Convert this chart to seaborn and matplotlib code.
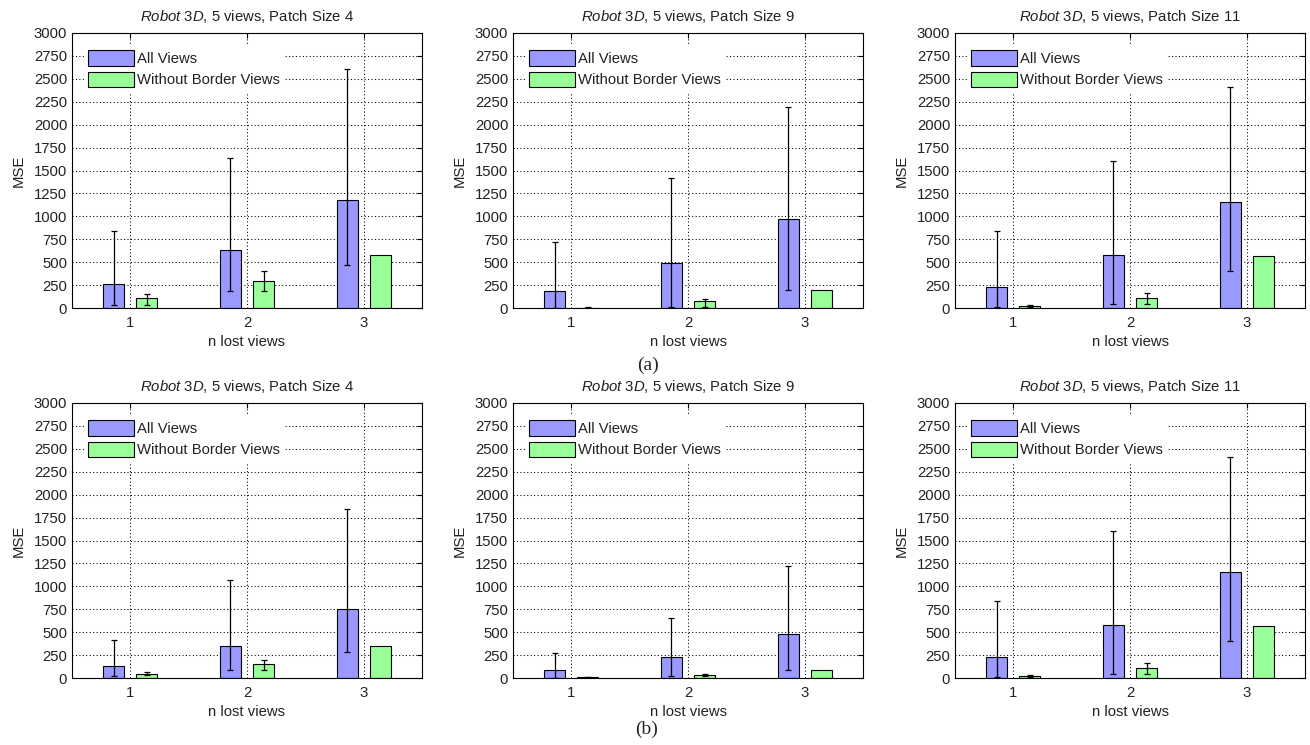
import numpy as np
import pandas as pd
import matplotlib
matplotlib.use("Agg")
import matplotlib.pyplot as plt
from matplotlib.container import BarContainer
import seaborn as sns

# ---------------- data ----------------
categories = ["1", "2", "3"]
series = ["All Views", "Without Border Views"]
patch_sizes = [4, 9, 11]
row_captions = ["(a)", "(b)"]
yticks = [0, 250, 500, 750, 1000, 1250, 1500, 1750, 2000, 2250, 2500, 2750, 3000]
nan = float("nan")

# row (a), patch size 4
a4_all = [262, 629, 1182]
a4_all_lo = [36, 182, 473]
a4_all_hi = [844, 1633, 2607]
a4_wb = [109, 291, 575]
a4_wb_lo = [36, 182, nan]
a4_wb_hi = [153, 400, nan]
# row (a), patch size 9
a9_all = [189, 491, 971]
a9_all_lo = [0, 10, 200]
a9_all_hi = [716, 1418, 2189]
a9_wb = [5, 73, 200]
a9_wb_lo = [2, 10, nan]
a9_wb_hi = [8, 98, nan]
# row (a), patch size 11
a11_all = [229, 575, 1156]
a11_all_lo = [10, 47, 400]
a11_all_hi = [844, 1607, 2411]
a11_wb = [22, 109, 564]
a11_wb_lo = [11, 47, nan]
a11_wb_hi = [36, 164, nan]
# row (b), patch size 4
b4_all = [135, 353, 753]
b4_all_lo = [25, 87, 284]
b4_all_hi = [411, 1069, 1847]
b4_wb = [47, 153, 353]
b4_wb_lo = [29, 87, nan]
b4_wb_hi = [62, 196, nan]
# row (b), patch size 9
b9_all = [87, 225, 476]
b9_all_lo = [0, 25, 87]
b9_all_hi = [273, 655, 1218]
b9_wb = [11, 36, 87]
b9_wb_lo = [8, 25, nan]
b9_wb_hi = [14, 47, nan]
# row (b), patch size 11
b11_all = [229, 575, 1156]
b11_all_lo = [10, 47, 400]
b11_all_hi = [844, 1607, 2411]
b11_wb = [22, 109, 564]
b11_wb_lo = [11, 47, nan]
b11_wb_hi = [36, 164, nan]

panels = [
    [(a4_all, a4_all_lo, a4_all_hi, a4_wb, a4_wb_lo, a4_wb_hi),
     (a9_all, a9_all_lo, a9_all_hi, a9_wb, a9_wb_lo, a9_wb_hi),
     (a11_all, a11_all_lo, a11_all_hi, a11_wb, a11_wb_lo, a11_wb_hi)],
    [(b4_all, b4_all_lo, b4_all_hi, b4_wb, b4_wb_lo, b4_wb_hi),
     (b9_all, b9_all_lo, b9_all_hi, b9_wb, b9_wb_lo, b9_wb_hi),
     (b11_all, b11_all_lo, b11_all_hi, b11_wb, b11_wb_lo, b11_wb_hi)],
]

# ---------------- style ----------------
sns.set_style("white")
plt.rcParams["font.family"] = ["Liberation Sans", "DejaVu Sans"]
plt.rcParams["mathtext.fontset"] = "custom"
plt.rcParams["mathtext.it"] = "Liberation Sans:italic"
plt.rcParams["mathtext.rm"] = "Liberation Sans"
FS = 10.7
plt.rcParams["font.size"] = FS

blue = "#9999ff"
green = "#99ff99"
txt = "#222222"

W, H = 1310, 745
fig = plt.figure(figsize=(W / 100, H / 100), dpi=100)

col_left = [72, 513, 955]
ax_w = 350
row_bottom = [308, 678]
ax_h = 275

for r in range(2):
    for c in range(3):
        all_v, all_lo, all_hi, wb_v, wb_lo, wb_hi = panels[r][c]
        ax = fig.add_axes([col_left[c] / W, 1 - row_bottom[r] / H, ax_w / W, ax_h / H])
        df = pd.DataFrame({
            "n": categories * 2,
            "mse": list(all_v) + list(wb_v),
            "series": [series[0]] * 3 + [series[1]] * 3,
        })
        sns.barplot(data=df, x="n", y="mse", hue="series", order=categories,
                    hue_order=series, palette=[blue, green], width=0.57, gap=0.37,
                    edgecolor="black", linewidth=0.8, errorbar=None, legend=False,
                    saturation=1, ax=ax)
        bar_conts = [cont for cont in ax.containers if isinstance(cont, BarContainer)]
        lows = [all_lo, wb_lo]
        highs = [all_hi, wb_hi]
        vals = [all_v, wb_v]
        for k, cont in enumerate(bar_conts):
            xs, ys, el, eu = [], [], [], []
            for i, bar in enumerate(cont.patches):
                lo, hi = lows[k][i], highs[k][i]
                if np.isnan(lo) or np.isnan(hi):
                    continue
                xs.append(bar.get_x() + bar.get_width() / 2)
                ys.append(vals[k][i])
                el.append(vals[k][i] - lo)
                eu.append(hi - vals[k][i])
            if xs:
                ax.errorbar(xs, ys, yerr=[el, eu], fmt="none", ecolor="black",
                            elinewidth=0.9, capsize=1.9, capthick=0.9, zorder=3)
        ax.set_xlim(-0.5, 2.5)
        ax.set_ylim(0, 3000)
        ax.set_yticks(yticks)
        ax.set_yticklabels([str(t) for t in yticks])
        ax.set_axisbelow(True)
        ax.grid(True, which="major", axis="both", color="black",
                linestyle=(0, (1, 2.3)), linewidth=0.75)
        for sp in ax.spines.values():
            sp.set_visible(True)
            sp.set_color("black")
            sp.set_linewidth(0.8)
        ax.tick_params(direction="in", length=3.5, width=0.8, top=True, right=True,
                       labelsize=FS, colors="black", labelcolor=txt)
        ax.tick_params(axis="x", pad=6)
        ax.tick_params(axis="y", pad=3.5)
        ax.set_xlabel("n lost views", fontsize=FS, labelpad=3, color=txt)
        ax.set_ylabel("MSE", fontsize=FS, labelpad=6, color=txt)
        ax.set_title(r"$\mathit{Robot\ 3D}$, 5 views, Patch Size %d" % patch_sizes[c],
                     fontsize=FS, pad=8.5, color=txt)
        handles = [cont.patches[0] for cont in bar_conts]
        leg = ax.legend(handles, series, loc="upper left", bbox_to_anchor=(0.034, 0.953),
                        borderaxespad=0, borderpad=0.3, frameon=True, fancybox=False,
                        facecolor="white", edgecolor="none", framealpha=1,
                        handlelength=3.1, handleheight=1.25, handletextpad=0.2,
                        labelspacing=0.36, fontsize=FS)
        for t in leg.get_texts():
            t.set_color(txt)

fig.text(648 / W, 1 - 365 / H, row_captions[0], ha="center", va="center",
         family="Liberation Serif", fontsize=14)
fig.text(647 / W, 1 - 729 / H, row_captions[1], ha="center", va="center",
         family="Liberation Serif", fontsize=14)

fig.savefig("out.png", dpi=100)
